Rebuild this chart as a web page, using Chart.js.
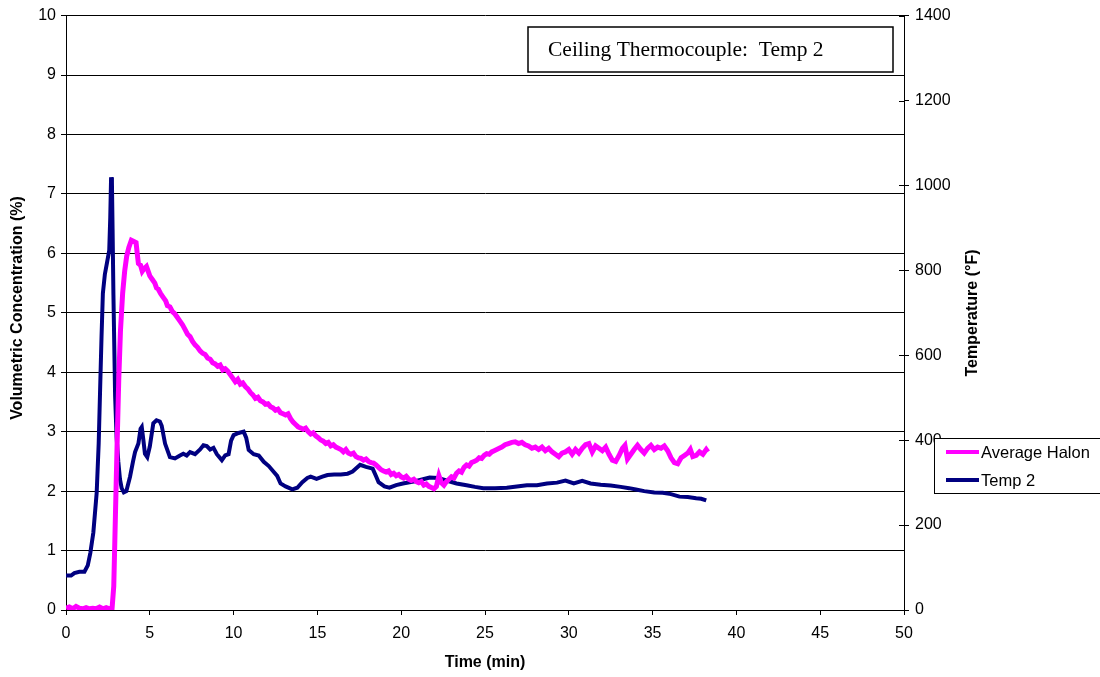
<!DOCTYPE html>
<html>
<head>
<meta charset="utf-8">
<script src="https://cdn.jsdelivr.net/npm/chart.js@4.4.1/dist/chart.umd.min.js"></script>
<style>
  body { margin: 0; background: #fff; }
  canvas { display: block; }
</style>
</head>
<body>
<canvas id="graph" width="1100" height="677"></canvas>
<script>
// Average Halon, volumetric concentration (%) vs time (min)
const halonTime = [0.0, 0.2, 0.4, 0.6, 0.8, 1.0, 1.2, 1.4, 1.6, 1.8, 2.0, 2.2, 2.4, 2.6, 2.75,
  2.85, 2.95, 3.05, 3.15, 3.25, 3.38, 3.5, 3.62, 3.75, 3.9, 4.05, 4.18, 4.25, 4.32, 4.45,
  4.55, 4.65, 4.8, 4.9, 5.0, 5.15, 5.3, 5.4, 5.5, 5.65, 5.8, 5.95, 6.05, 6.2, 6.35, 6.5,
  6.65, 6.8, 6.95, 7.1, 7.25, 7.4, 7.55, 7.7, 7.85, 8.0, 8.15, 8.3, 8.45, 8.6, 8.75, 8.9,
  9.05, 9.2, 9.35, 9.5, 9.65, 9.8, 9.95, 10.1, 10.25, 10.4, 10.55, 10.7, 10.85, 11.0, 11.15,
  11.3, 11.45, 11.6, 11.75, 11.9, 12.05, 12.2, 12.35, 12.5, 12.65, 12.8, 12.95, 13.1, 13.25,
  13.4, 13.55, 13.7, 13.85, 14.0, 14.15, 14.3, 14.45, 14.6, 14.75, 14.9, 15.05, 15.2, 15.35,
  15.5, 15.65, 15.8, 15.95, 16.1, 16.25, 16.4, 16.55, 16.7, 16.85, 17.0, 17.15, 17.3, 17.45,
  17.6, 17.75, 17.9, 18.05, 18.2, 18.35, 18.5, 18.65, 18.8, 18.95, 19.1, 19.25, 19.4, 19.55,
  19.7, 19.85, 20.0, 20.15, 20.3, 20.45, 20.6, 20.75, 20.9, 21.05, 21.2, 21.35, 21.5, 21.65,
  21.8, 21.95, 22.1, 22.25, 22.4, 22.55, 22.7, 22.85, 23.0, 23.15, 23.3, 23.45, 23.6, 23.75,
  23.9, 24.05, 24.2, 24.35, 24.5, 24.65, 24.8, 24.95, 25.1, 25.25, 25.4, 25.55, 25.7, 25.85,
  26.0, 26.2, 26.4, 26.6, 26.8, 27.0, 27.2, 27.4, 27.6, 27.8, 28.0, 28.2, 28.4, 28.6, 28.8,
  29.0, 29.2, 29.4, 29.6, 29.8, 30.0, 30.2, 30.4, 30.6, 30.8, 31.0, 31.2, 31.4, 31.6, 31.8,
  32.0, 32.2, 32.4, 32.6, 32.8, 33.0, 33.2, 33.35, 33.5, 33.7, 33.9, 34.1, 34.3, 34.5, 34.7,
  34.9, 35.1, 35.3, 35.5, 35.7, 35.9, 36.1, 36.3, 36.5, 36.7, 36.9, 37.1, 37.25, 37.4, 37.6,
  37.8, 38.0, 38.2, 38.3];
const halonPct = [0.03, 0.05, 0.02, 0.06, 0.03, 0.02, 0.04, 0.02, 0.03, 0.02, 0.05, 0.02, 0.04, 0.02, 0.03,
  0.4, 1.6, 2.8, 3.9, 4.7, 5.33, 5.7, 5.95, 6.1, 6.22, 6.2, 6.18, 6.0, 5.83, 5.8,
  5.7, 5.74, 5.78, 5.7, 5.62, 5.56, 5.5, 5.42, 5.4, 5.32, 5.26, 5.2, 5.12, 5.1, 5.02, 4.98,
  4.92, 4.86, 4.8, 4.72, 4.64, 4.6, 4.52, 4.46, 4.42, 4.36, 4.32, 4.3, 4.24, 4.22, 4.16, 4.14,
  4.1, 4.12, 4.04, 4.06, 4.02, 3.96, 3.9, 3.84, 3.88, 3.8, 3.82, 3.76, 3.72, 3.66, 3.62,
  3.56, 3.58, 3.52, 3.5, 3.46, 3.47, 3.42, 3.4, 3.36, 3.38, 3.32, 3.3, 3.28, 3.3,
  3.22, 3.16, 3.12, 3.08, 3.06, 3.04, 3.06, 3.0, 2.96, 2.98, 2.93, 2.9, 2.86, 2.84,
  2.8, 2.82, 2.76, 2.78, 2.74, 2.72, 2.7, 2.66, 2.7, 2.64, 2.62, 2.64, 2.58, 2.56,
  2.55, 2.52, 2.54, 2.5, 2.48, 2.47, 2.44, 2.4, 2.36, 2.34, 2.32, 2.34, 2.28, 2.3,
  2.26, 2.28, 2.24, 2.22, 2.25, 2.2, 2.18, 2.2, 2.16, 2.14, 2.16, 2.1, 2.12, 2.08,
  2.06, 2.04, 2.08, 2.26, 2.14, 2.1, 2.16, 2.2, 2.24, 2.22, 2.3, 2.34, 2.32, 2.4,
  2.44, 2.42, 2.48, 2.5, 2.52, 2.56, 2.55, 2.6, 2.63, 2.62, 2.66, 2.68, 2.7, 2.72,
  2.74, 2.78, 2.8, 2.82, 2.83, 2.8, 2.82, 2.78, 2.76, 2.72, 2.74, 2.7, 2.74, 2.68, 2.72,
  2.66, 2.62, 2.58, 2.64, 2.66, 2.7, 2.62, 2.7, 2.64, 2.72, 2.78, 2.8, 2.66, 2.76, 2.72,
  2.68, 2.74, 2.62, 2.52, 2.5, 2.6, 2.72, 2.77, 2.54, 2.62, 2.7, 2.77, 2.7, 2.64, 2.72,
  2.77, 2.7, 2.74, 2.72, 2.76, 2.68, 2.56, 2.48, 2.46, 2.56, 2.6, 2.64, 2.7, 2.58, 2.6,
  2.66, 2.62, 2.7, 2.66];

// Temp 2, ceiling thermocouple (deg F) vs time (min)
const tempTime = [0.0, 0.3, 0.5, 0.8, 1.1, 1.3, 1.45, 1.63, 1.83, 1.95, 2.03, 2.12, 2.2, 2.32,
  2.45, 2.58, 2.64, 2.69, 2.74, 2.78, 2.83, 2.93, 3.02, 3.12, 3.22, 3.32, 3.45, 3.6, 3.82,
  4.0, 4.12, 4.32, 4.45, 4.52, 4.62, 4.71, 4.85, 5.0, 5.21, 5.4, 5.6, 5.71, 5.91, 6.2, 6.5,
  6.8, 7.0, 7.2, 7.4, 7.7, 8.0, 8.2, 8.4, 8.6, 8.8, 9.0, 9.3, 9.5, 9.7, 9.85, 10.0, 10.3,
  10.6, 10.75, 10.9, 11.2, 11.5, 11.8, 12.1, 12.4, 12.6, 12.8, 13.1, 13.5, 13.8, 14.1, 14.4,
  14.6, 14.95, 15.3, 15.6, 16.0, 16.4, 16.8, 17.1, 17.3, 17.55, 17.9, 18.3, 18.5, 18.65, 19.0,
  19.3, 19.7, 20.1, 20.5, 20.9, 21.3, 21.7, 22.2, 22.7, 23.3, 23.9, 24.4, 24.9, 25.6, 26.3,
  26.9, 27.5, 28.1, 28.7, 29.3, 29.8, 30.3, 30.8, 31.3, 31.9, 32.5, 33.1, 33.6, 34.0, 34.5,
  35.1, 35.6, 36.1, 36.6, 37.1, 37.6, 37.9, 38.2];
const tempF = [81, 81, 87, 90, 90, 105, 134, 182, 276, 392, 511, 644, 746, 791,
  819, 847, 924, 1019, 1008, 896, 742, 504, 406, 350, 308, 287, 277, 280, 314,
  350, 372, 392, 427, 431, 399, 368, 360, 385, 440, 447, 444, 434, 392, 360, 357,
  364, 368, 364, 372, 367, 378, 388, 386, 378, 382, 367, 353, 364, 367, 399, 412, 417,
  420, 406, 377, 367, 364, 349, 339, 325, 316, 298, 291, 284, 288, 301, 311,
  314, 309, 314, 318, 319, 319, 321, 326, 333, 342, 337, 333, 315, 301, 291,
  288, 294, 298, 301, 304, 308, 312, 311, 305, 298, 294, 290, 287, 287, 288,
  291, 294, 294, 298, 300, 305, 298, 304, 298, 295, 293, 290, 287, 284, 280,
  277, 276, 273, 267, 266, 263, 262, 258];

const xTicks = { min: 0, max: 50, step: 5 };
const leftTicks = { min: 0, max: 10, step: 1 };
const rightTicks = { min: 0, max: 1400, step: 200 };

const seriesNames = ['Average Halon', 'Temp 2'];
const seriesColors = ['#ff00ff', '#000080'];

const chartTitle = 'Ceiling Thermocouple:  Temp 2';
const xTitle = 'Time (min)';
const leftTitle = 'Volumetric Concentration (%)';
const rightTitle = 'Temperature (\u00b0F)';

const g = document.getElementById('graph');
Chart.defaults.font.family = 'Arial, "Liberation Sans", sans-serif';
Chart.defaults.color = '#000';

// titles, text box, legend and the cross ticks on the right axis
const extras = {
  id: 'extras',
  afterDraw(chart) {
    const ctx = chart.ctx;
    const area = chart.chartArea;
    ctx.save();

    // inner half of the right-axis ticks
    const y2 = chart.scales.y2;
    ctx.strokeStyle = '#000';
    ctx.lineWidth = 1;
    y2.ticks.forEach(t => {
      const py = Math.round(y2.getPixelForValue(t.value)) + 0.5;
      ctx.beginPath();
      ctx.moveTo(area.right - 5, py);
      ctx.lineTo(area.right, py);
      ctx.stroke();
    });

    // axis titles
    ctx.font = 'bold 16px Arial, "Liberation Sans", sans-serif';
    ctx.fillStyle = '#000';
    ctx.textAlign = 'center';
    ctx.textBaseline = 'middle';
    ctx.fillText(xTitle, (area.left + area.right) / 2, 663);
    ctx.save();
    ctx.translate(18, 308);
    ctx.rotate(-Math.PI / 2);
    ctx.fillText(leftTitle, 0, 0);
    ctx.restore();
    ctx.save();
    ctx.translate(973, 313);
    ctx.rotate(-Math.PI / 2);
    ctx.fillText(rightTitle, 0, 0);
    ctx.restore();

    // text box in the top right
    ctx.fillStyle = '#fff';
    ctx.fillRect(528, 27, 365, 45);
    ctx.lineWidth = 1.5;
    ctx.strokeStyle = '#000';
    ctx.strokeRect(528, 27, 365, 45);
    ctx.fillStyle = '#000';
    ctx.font = '21.5px "Liberation Serif", "Times New Roman", serif';
    ctx.textAlign = 'left';
    ctx.fillText(chartTitle, 548, 50);

    // legend box, runs off the right edge
    ctx.fillStyle = '#fff';
    ctx.fillRect(934, 438, 170, 55);
    ctx.lineWidth = 1;
    ctx.strokeRect(934.5, 438.5, 170, 55);
    ctx.font = '16.5px Arial, "Liberation Sans", sans-serif';
    seriesNames.forEach((name, i) => {
      const py = 452 + i * 28;
      ctx.strokeStyle = seriesColors[i];
      ctx.lineWidth = 4;
      ctx.beginPath();
      ctx.moveTo(946, py);
      ctx.lineTo(979, py);
      ctx.stroke();
      ctx.fillStyle = '#000';
      ctx.fillText(name, 981, py + 1);
    });
    ctx.restore();
  }
};

new Chart(g, {
  type: 'line',
  data: {
    datasets: [
      {
        label: seriesNames[0],
        data: halonTime.map((t, i) => ({ x: t, y: halonPct[i] })),
        borderColor: seriesColors[0],
        borderWidth: 5,
        pointRadius: 0,
        tension: 0,
        yAxisID: 'y'
      },
      {
        label: seriesNames[1],
        data: tempTime.map((t, i) => ({ x: t, y: tempF[i] })),
        borderColor: seriesColors[1],
        borderWidth: 4,
        pointRadius: 0,
        tension: 0,
        yAxisID: 'y2'
      }
    ]
  },
  options: {
    responsive: false,
    animation: false,
    layout: { padding: { top: 15, left: 0, right: 0, bottom: 0 } },
    plugins: { legend: { display: false }, tooltip: { enabled: false } },
    scales: {
      x: {
        type: 'linear',
        min: xTicks.min, max: xTicks.max,
        afterFit: s => { s.height = 67; },
        ticks: { stepSize: xTicks.step, font: { size: 16 }, padding: 9, maxRotation: 0 },
        grid: { drawOnChartArea: false, tickLength: 5, color: '#000' },
        border: { color: '#000', width: 1 }
      },
      y: {
        position: 'left',
        min: leftTicks.min, max: leftTicks.max,
        afterFit: s => { s.width = 66; },
        ticks: { stepSize: leftTicks.step, font: { size: 16 }, padding: 5 },
        grid: { color: '#000', tickLength: 5 },
        border: { color: '#000', width: 1 }
      },
      y2: {
        position: 'right',
        min: rightTicks.min, max: rightTicks.max,
        afterFit: s => { s.width = 196; },
        ticks: {
          stepSize: rightTicks.step, font: { size: 16 }, padding: 6,
          callback: v => String(v)
        },
        grid: { drawOnChartArea: false, color: '#000', tickLength: 5 },
        border: { color: '#000', width: 1 }
      }
    }
  },
  plugins: [extras]
});
</script>
</body>
</html>
